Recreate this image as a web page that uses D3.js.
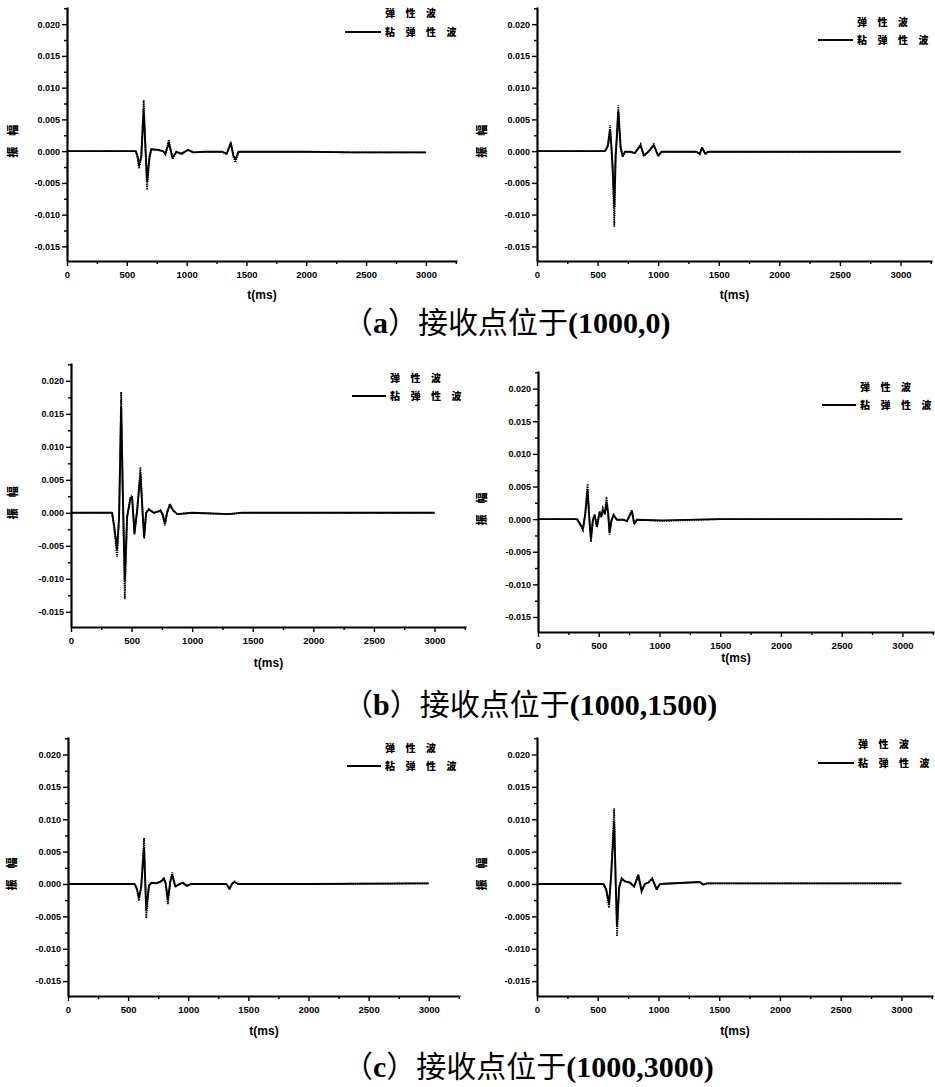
<!DOCTYPE html>
<html><head><meta charset="utf-8">
<script src="https://cdn.jsdelivr.net/npm/d3@7/dist/d3.min.js"></script>
<style>body{margin:0;background:#fff}svg{display:block}</style>
</head><body>
<svg id="c" width="935" height="1087"></svg>
<script>
// ---------- data ----------
const xTicks = [0, 500, 1000, 1500, 2000, 2500, 3000];
const xMinor = [250, 750, 1250, 1750, 2250, 2750, 3250];
const yTicks = [-0.015, -0.010, -0.005, 0, 0.005, 0.010, 0.015, 0.020];
const yMinor = [-0.0125, -0.0075, -0.0025, 0.0025, 0.0075, 0.0125, 0.0175, 0.0225];
const legendLabels = ["弹性波", "粘弹性波"];
const xLabel = "t(ms)";
const yLabel = "振幅";
const captionLetters = ["a", "b", "c"];
const captionText = "接收点位于";
const captionCoords = ["(1000,0)", "(1000,1500)", "(1000,3000)"];

// (a) left
const tA1 = [0, 300, 575, 590, 602, 621, 641, 655, 669, 690, 705, 760, 803, 823, 851, 882, 915, 957, 1013, 1055, 1150, 1300, 1335, 1369, 1391, 1408, 1433, 1600, 2000, 2400, 3000];
const eA1 = [0, 0, 0, -0.0010, -0.0027, -0.0010, 0.0081, 0.0010, -0.0061, -0.0010, 0.0003, 0.0002, 0, -0.0005, 0.0018, -0.0013, -0.0001, -0.0005, 0.0002, -0.0002, -0.0001, -0.0001, -0.0005, 0.0015, -0.0009, -0.0018, -0.0001, -0.0001, -0.0001, -0.0002, -0.0002];
const vA1 = [0, 0, 0, -0.0008, -0.0022, -0.0008, 0.0065, 0.0008, -0.0047, -0.0008, 0.0003, 0.0002, 0, -0.0004, 0.0013, -0.0010, -0.0001, -0.0004, 0.0002, -0.0002, -0.0001, -0.0001, -0.0004, 0.0012, -0.0007, -0.0013, -0.0001, -0.0001, -0.0001, -0.0002, -0.0002];
// (a) right
const tA2 = [0, 300, 562, 585, 603, 615, 625, 638, 649, 660, 671, 690, 707, 726, 767, 808, 855, 882, 918, 964, 1000, 1027, 1200, 1315, 1343, 1362, 1389, 1411, 1800, 2400, 3000];
const eA2 = [0, 0, 0, 0.0010, 0.0041, 0.0005, -0.0035, -0.0119, -0.0009, 0.0030, 0.0072, 0.0007, -0.0009, -0.0001, -0.0001, -0.0003, 0.0011, -0.0008, -0.0001, 0.0011, -0.0008, -0.0001, -0.0001, -0.0001, -0.0005, 0.0006, -0.0005, -0.0001, -0.0001, -0.0001, -0.0001];
const vA2 = [0, 0, 0, 0.0008, 0.0033, 0.0004, -0.0028, -0.0088, -0.0007, 0.0025, 0.0062, 0.0006, -0.0008, -0.0001, -0.0001, -0.0003, 0.0009, -0.0007, -0.0001, 0.0009, -0.0007, -0.0001, -0.0001, -0.0001, -0.0004, 0.0005, -0.0004, -0.0001, -0.0001, -0.0001, -0.0001];
// (b) left
const tB1 = [0, 200, 339, 358, 380, 397, 414, 427, 444, 463, 491, 504, 524, 546, 573, 593, 604, 620, 642, 684, 739, 758, 775, 794, 816, 844, 877, 1000, 1304, 1400, 2000, 3000];
const eB1 = [0, 0, 0, -0.0027, -0.0067, -0.0007, 0.0183, 0.0039, -0.0131, -0.0007, 0.0024, 0.0026, -0.0033, 0.0004, 0.0069, -0.0007, -0.0039, 0, 0.0006, 0, 0.0004, -0.0004, -0.0019, 0.0001, 0.0014, 0.0004, -0.0002, 0, -0.0002, 0, 0, 0];
const vB1 = [0, 0, 0, -0.0022, -0.0055, -0.0006, 0.0160, 0.0034, -0.0103, -0.0006, 0.0022, 0.0024, -0.0030, 0.0004, 0.0058, -0.0006, -0.0035, 0, 0.0005, 0, 0.0003, -0.0003, -0.0016, 0.0001, 0.0012, 0.0003, -0.0002, 0, -0.0002, 0, 0, 0];
// (b) right
const tB2 = [0, 200, 321, 348, 370, 389, 408, 422, 436, 452, 466, 485, 507, 521, 534, 551, 564, 578, 589, 606, 622, 649, 704, 732, 773, 792, 814, 1019, 1500, 3000];
const eB2 = [0, 0, 0, -0.0009, -0.0017, 0.0009, 0.0054, 0.0002, -0.0035, -0.0001, 0.0007, -0.0013, 0.0012, 0.0004, 0.0017, 0.0009, 0.0034, 0.0009, -0.0024, -0.0001, 0.0007, -0.0001, -0.0001, -0.0003, 0.0014, -0.0008, -0.0001, -0.0003, 0, 0];
const vB2 = [0, 0, 0, -0.0008, -0.0015, 0.0008, 0.0045, 0.0002, -0.0030, -0.0001, 0.0006, -0.0011, 0.0010, 0.0004, 0.0014, 0.0008, 0.0026, 0.0008, -0.0020, -0.0001, 0.0006, -0.0001, -0.0001, -0.0003, 0.0012, -0.0007, -0.0001, -0.0002, 0, 0];
// (c) left
const tC1 = [0, 300, 554, 572, 590, 609, 632, 651, 673, 693, 734, 776, 798, 812, 831, 850, 867, 892, 928, 956, 989, 1025, 1316, 1343, 1366, 1385, 1413, 2000, 3000];
const eC1 = [0, 0, 0, -0.0008, -0.0026, -0.0005, 0.0071, -0.0053, -0.0003, 0.0002, 0.0001, 0.0005, 0.0009, 0.0001, -0.0031, 0.0003, 0.0018, -0.0004, 0, 0.0002, -0.0003, 0, 0, -0.0009, 0.0001, 0.0004, 0, 0, 0.0001];
const vC1 = [0, 0, 0, -0.0007, -0.0021, -0.0004, 0.0056, -0.0040, -0.0003, 0.0002, 0.0001, 0.0004, 0.0008, 0.0001, -0.0024, 0.0003, 0.0014, -0.0004, 0, 0.0002, -0.0003, 0, 0, -0.0007, 0.0001, 0.0003, 0, 0, 0.0001];
// (c) right
const tC2 = [0, 300, 547, 569, 593, 610, 635, 648, 659, 676, 697, 725, 766, 799, 834, 861, 889, 916, 949, 985, 1012, 1340, 1368, 1400, 2000, 3000];
const eC2 = [0, 0, 0, -0.0009, -0.0037, 0.0014, 0.0117, 0.0002, -0.0081, -0.0006, 0.0009, 0.0004, 0.0002, -0.0004, 0.0015, -0.0012, 0, 0.0002, 0.0009, -0.0009, 0, 0.0003, -0.0001, 0.0001, 0.0001, 0.0001];
const vC2 = [0, 0, 0, -0.0008, -0.0030, 0.0012, 0.0095, 0.0002, -0.0065, -0.0005, 0.0008, 0.0004, 0.0002, -0.0004, 0.0013, -0.0010, 0, 0.0002, 0.0008, -0.0008, 0, 0.0003, -0.0001, 0.0001, 0.0001, 0.0001];

const series = [
  [tA1, eA1, vA1], [tA2, eA2, vA2],
  [tB1, eB1, vB1], [tB2, eB2, vB2],
  [tC1, eC1, vC1], [tC2, eC2, vC2]
];

// ---------- layout ----------
const xDomain = [0, 3260];
const yDomain = [-0.0173, 0.0227];
const layout = [
  {x0: 67,  x1: 457, top: 7,   bottom: 261, legX: 385, legY1: 12.5,  legY2: 32,  lineX: 345, ylabX: 13,  xlabY: 295},
  {x0: 537, x1: 932, top: 7,   bottom: 261, legX: 857, legY1: 21.7,  legY2: 40,  lineX: 818, ylabX: 482, xlabY: 295},
  {x0: 71,  x1: 466, top: 363, bottom: 627, legX: 390, legY1: 377.7, legY2: 396, lineX: 352, ylabX: 13,  xlabY: 663},
  {x0: 538, x1: 934, top: 371, bottom: 632, legX: 860, legY1: 386.7, legY2: 405, lineX: 822, ylabX: 482, xlabY: 658},
  {x0: 68,  x1: 460, top: 737, bottom: 996, legX: 385, legY1: 747.7, legY2: 766, lineX: 347, ylabX: 12,  xlabY: 1031},
  {x0: 537, x1: 933, top: 737, bottom: 996, legX: 858, legY1: 744,   legY2: 763, lineX: 818, ylabX: 482, xlabY: 1031}
];
const captionY = [333, 715, 1077];
const captionX = 343;
const legPitch = 20.5;

const svg = d3.select("#c");
const fmt = d3.formatLocale({decimal: ".", thousands: ",", grouping: [3], currency: ["", ""], minus: "-"}).format(".3f");
const fmtX = d3.format("d");
const sansB = "'Liberation Sans', Arial, sans-serif";
const cjk = "'Noto Sans CJK SC', sans-serif";

function legendText(g, x0, yb, str) {
  const t = g.append("text").attr("y", yb)
    .attr("font-family", cjk).attr("font-weight", 900).attr("font-size", 10).attr("fill", "#000");
  Array.from(str).forEach((ch, k) => t.append("tspan").attr("x", x0 + k * legPitch).text(ch));
}

series.forEach((s, i) => {
  const L = layout[i];
  const x = d3.scaleLinear().domain(xDomain).range([L.x0, L.x1]);
  const y = d3.scaleLinear().domain(yDomain).range([L.bottom, L.top]);
  const g = svg.append("g");
  const [t, el, vi] = s;
  const line = d3.line().x(d => x(d[0])).y(d => y(d[1]));

  // traces
  g.append("path").datum(t.map((tt, k) => [tt, el[k]]))
    .attr("d", line).attr("fill", "none").attr("stroke", "#000")
    .attr("stroke-width", 1.8).attr("stroke-dasharray", "1.2,1.1");
  g.append("path").datum(t.map((tt, k) => [tt, vi[k]]))
    .attr("d", line).attr("fill", "none").attr("stroke", "#000")
    .attr("stroke-width", 1.9).attr("stroke-linejoin", "round");

  // axes
  const yAx = g.append("g").attr("transform", `translate(${L.x0},0)`)
    .call(d3.axisLeft(y).tickValues(yTicks).tickSize(5).tickSizeOuter(0).tickPadding(2).tickFormat(fmt));
  g.append("g").attr("transform", `translate(${L.x0},0)`)
    .call(d3.axisLeft(y).tickValues(yMinor).tickSize(3).tickFormat(""))
    .call(a => a.select(".domain").remove());
  const xAx = g.append("g").attr("transform", `translate(0,${L.bottom})`)
    .call(d3.axisBottom(x).tickValues(xTicks).tickSize(5).tickSizeOuter(0).tickPadding(5).tickFormat(fmtX));
  g.append("g").attr("transform", `translate(0,${L.bottom})`)
    .call(d3.axisBottom(x).tickValues(xMinor).tickSize(3).tickFormat(""))
    .call(a => a.select(".domain").remove());
  g.selectAll(".domain").attr("stroke-width", 2.2).attr("stroke", "#000");
  g.selectAll(".tick line").attr("stroke-width", 1.4).attr("stroke", "#000");
  yAx.selectAll("text").attr("font-family", sansB).attr("font-weight", "bold").attr("font-size", 9).attr("fill", "#000");
  xAx.selectAll("text").attr("font-family", sansB).attr("font-weight", "bold").attr("font-size", 9.5).attr("fill", "#000");

  // axis labels
  g.append("text").attr("x", (L.x0 + L.x1) / 2).attr("y", L.xlabY + 4)
    .attr("text-anchor", "middle").attr("font-family", sansB).attr("font-weight", "bold")
    .attr("font-size", 12).text(xLabel);
  const yc = y(0) - 10;
  g.append("text").attr("transform", `translate(${L.ylabX + 4},${yc}) rotate(-90)`)
    .attr("text-anchor", "middle").attr("font-family", cjk).attr("font-weight", 900)
    .attr("font-size", 11).attr("letter-spacing", 11).attr("dx", 5.5).text(yLabel);

  // legend
  legendText(g, L.legX, L.legY1 + 4, legendLabels[0]);
  g.append("line").attr("x1", L.lineX).attr("x2", L.legX - 4)
    .attr("y1", L.legY2).attr("y2", L.legY2).attr("stroke", "#000").attr("stroke-width", 1.8);
  legendText(g, L.legX, L.legY2 + 4, legendLabels[1]);
});

// captions
captionY.forEach((cy, i) => {
  const tx = svg.append("text").attr("x", captionX).attr("y", cy).attr("font-size", 30).attr("fill", "#000");
  tx.append("tspan").attr("font-family", cjk).text("（");
  tx.append("tspan").attr("font-family", "'Liberation Serif', serif").attr("font-weight", "bold").text(captionLetters[i]);
  tx.append("tspan").attr("font-family", cjk).text("）" + captionText);
  tx.append("tspan").attr("font-family", "'Liberation Serif', serif").attr("font-weight", "bold").text(captionCoords[i]);
});
</script>
</body></html>
